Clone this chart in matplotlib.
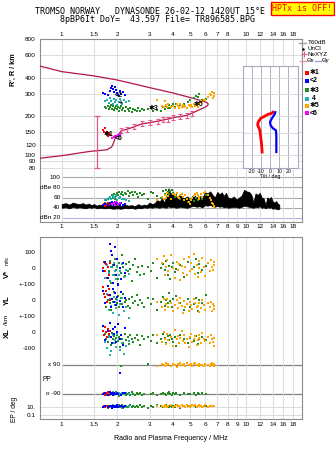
import numpy as np
import matplotlib.pyplot as plt
import matplotlib.ticker as mticker

plt.rcParams['font.family'] = ['Liberation Sans', 'DejaVu Sans']

# ---- frequency axis ticks
top_ticks = [1, 1.5, 2, 3, 4, 5, 6, 7, 8, 10, 12, 14, 16, 18]
mid_ticks = [1, 1.5, 2, 3, 4, 5, 6, 7, 8, 9, 10, 12, 14, 16, 18]

# ---- true-height profile (plasma freq MHz, height km)
prof_f = [0.76, 1.0, 1.43, 1.76, 1.87, 1.91, 1.95, 2.03, 2.11, 2.27, 2.47, 2.72, 3.02, 3.35, 3.57, 3.79,
          4.04, 4.39, 4.77, 5.1, 5.4, 5.7, 6.0, 6.2, 6.25, 6.15, 5.9, 5.2, 4.0, 3.0, 2.0, 1.5, 1.0, 0.76]
prof_R = [94.5, 99, 107, 110, 116, 124, 135, 144, 155, 159, 166, 175, 179, 184, 188, 191,
          196, 199, 204, 212, 220, 228, 236, 243, 250, 256, 262, 276, 305, 335, 384, 413, 446, 493]
err_f = [2.11, 2.27, 2.47, 2.72, 3.02, 3.35, 3.57, 3.79, 4.04, 4.39, 4.77, 5.1]
err_R = [155, 159, 166, 175, 179, 184, 188, 191, 196, 199, 204, 212]
valley_f, valley_R, valley_lo, valley_hi = 1.55, 115, 35, 85

# ---- echoes, per Doppler group
green_f = [1.72, 1.75, 1.78, 1.80, 1.83, 1.86, 1.88, 1.90, 1.92, 1.95, 1.97, 2.00, 2.02, 2.05, 2.08, 2.10,
           2.13, 2.16, 2.20, 2.24, 2.28, 2.32, 2.36, 2.40, 2.45, 2.50, 2.55, 2.60, 2.66, 2.72, 2.80, 2.95,
           3.05, 3.15, 3.30, 3.45, 3.55, 3.62, 3.70, 3.76, 3.82, 3.88, 3.95, 4.02, 4.10, 4.20, 4.40, 4.60,
           4.85, 5.00, 5.20, 5.35, 5.50, 5.60, 5.75, 6.10]
green_R = [238, 232, 241, 228, 236, 244, 230, 239, 226, 234, 242, 229, 237, 221, 233, 240,
           225, 231, 219, 236, 228, 222, 234, 217, 230, 226, 221, 233, 219, 227, 224, 229,
           231, 220, 226, 222, 236, 228, 240, 231, 245, 234, 239, 248, 236, 252, 244, 250,
           258, 266, 276, 290, 284, 298, 270, 275]
green_dB = [50, 55, 58, 60, 62, 57, 64, 60, 66, 58, 63, 68, 65, 70, 62, 67,
            71, 64, 69, 66, 72, 63, 68, 70, 65, 71, 67, 62, 69, 64, 66, 58,
            71, 68, 63, 60, 73, 67, 75, 70, 66, 72, 74, 68, 62, 65, 58, 55,
            52, 57, 54, 60, 56, 62, 58, 64]
green_V = [30, -60, 10, -20, 45, -90, 5, 20, -40, 60, -10, 15, -70, 35, 0, -30,
           80, 10, -50, 25, -15, 40, -5, -80, 20, 55, -25, 5, -45, 15, -35, 10,
           -20, 30, -60, 0, 25, -10, 45, -40, 15, -70, 5, 35, -25, -5, 20, -55,
           40, -15, 10, 60, -30, 25, -10, 15]
green_YL = [20, -40, 0, 35, -20, -60, 10, -10, 50, -30, 5, -15, 25, -45, -5, 15,
            -25, 40, -10, 0, -35, 10, -50, 20, -20, -5, 30, -30, 0, -15, -40, 15,
            -25, 5, -60, -10, 20, -35, 0, -20, 45, -5, -45, 10, -30, 25, -15, -60,
            5, -40, -25, 15, -70, 0, -20, 35]
green_XL = [-10, -40, -60, -20, -30, -80, -5, -45, -25, -70, -35, -15, -55, -30, -90, -20,
            -40, -65, -10, -50, -30, -75, -20, -45, -60, -35, -15, -50, -80, -25, -40, -30,
            -55, -20, -65, -45, -10, -35, -70, -25, -50, -15, -40, -60, -30, -85, -20, -45,
            -65, -35, -55, -25, -75, -40, -30, -50]
green_pol = [-85, -95, -90, -80, -100, -88, -92, -84, -96, -90, -78, -93, -87, -102, -90, 85,
             -86, -94, -82, -98, -90, -88, -95, -80, -92, -100, -86, -90, -84, -96, -91, 95,
             -89, -83, -97, -90, -85, -93, -100, -88, -80, -92, -95, -87, -90, -84, -98, -86,
             -92, -90, -83, -95, -88, -91, -86, -94]
green_EP = [8, 15, 5, 20, 10, 12, 6, 25, 9, 14, 18, 7, 11, 30, 8, 13,
            22, 6, 10, 16, 9, 12, 28, 7, 15, 11, 19, 8, 24, 10, 13, 6,
            17, 9, 21, 12, 7, 14, 26, 10, 8, 18, 11, 15, 9, 22, 6, 13,
            20, 10, 16, 8, 12, 25, 9, 14]

orange_f = [3.3, 3.5, 3.6, 3.65, 3.7, 3.75, 3.8, 3.9, 4.0, 4.15, 4.25, 4.3, 4.35, 4.4, 4.5, 4.55,
            4.6, 4.7, 4.8, 4.9, 5.0, 5.05, 5.1, 5.2, 5.3, 5.4, 5.5, 5.55, 5.6, 5.7, 5.8, 5.9,
            6.0, 6.2, 6.4, 6.5, 6.55, 6.6, 6.7, 6.75]
orange_R = [270, 240, 235, 262, 245, 238, 250, 236, 242, 232, 248, 240, 234, 252, 238, 245,
            236, 241, 233, 247, 239, 244, 236, 250, 242, 246, 238, 255, 248, 262, 258, 270,
            266, 285, 300, 295, 310, 278, 305, 290]
orange_dB = [55, 62, 58, 65, 60, 68, 63, 57, 66, 64, 68, 62, 59, 65, 67, 61,
             56, 64, 58, 52, 48, 55, 60, 63, 66, 68, 64, 61, 58, 66, 62, 68,
             70, 65, 60, 55, 50, 47, 44, 42]
orange_V = [60, 30, 75, -40, 10, 50, -20, 85, 0, -60, 40, -10, 25, -75, 15, -30,
            55, 5, -45, 70, -20, 35, -5, 90, -35, 20, -55, 45, 0, -25, 65, 10,
            -50, 30, -15, 50, 5, -10, 20, 40]
orange_YL = [-10, -40, 10, -60, -25, 5, -45, -15, -70, -30, 0, -50, -20, 15, -35, -80,
             -5, -40, -25, -65, -10, -30, -55, 5, -20, -45, -35, -75, -15, -50, 0, -30,
             -60, -20, -40, -10, -70, -25, -55, -35]
orange_XL = [-20, -60, 0, -40, -75, -10, -50, -30, -85, 15, -45, -25, -65, -35, 5, -55,
             -20, -70, -40, -90, -30, -10, -60, -45, -25, -80, -50, -15, -35, -65, -5, -40,
             -55, -30, -70, -20, -45, -60, -35, -85]
orange_pol = [85, 95, 90, 80, 100, 88, 92, 84, 96, 90, 78, 93, 87, 102, 90, 86,
              94, 82, 98, 90, 88, 95, 80, 92, 100, 86, 90, 84, 96, 91, 89, 83,
              97, 90, 85, 93, 100, 88, 80, 92]
orange_EP = [12, 20, 9, 25, 15, 11, 18, 30, 10, 14, 22, 13, 16, 9, 27, 12,
             19, 11, 24, 15, 10, 17, 28, 13, 21, 9, 16, 12, 26, 14, 11, 19,
             23, 10, 15, 18, 12, 20, 14, 16]

blue_f = [1.67, 1.72, 1.78, 1.82, 1.85, 1.88, 1.9, 1.93, 1.95, 1.98, 2.0, 2.03, 2.07, 2.1, 2.15, 2.2]
blue_R = [305, 300, 296, 318, 335, 342, 328, 312, 338, 322, 305, 296, 315, 300, 308, 292]
blue_dB = [45, 47, 46, 50, 48, 52, 49, 46, 51, 47, 50, 48, 46, 49, 45, 47]
blue_V = [-20, 40, -60, 150, 110, 80, -90, 20, 130, -40, 60, -100, 0, -70, 30, -30]
blue_YL = [60, -20, 90, 30, -40, 10, 70, -10, 45, -30, 20, 95, -5, 50, -45, 15]
blue_XL = [40, -50, 10, 60, -30, -70, 20, -10, 35, -60, 0, 50, -40, -20, -80, 25]
blue_pol = [-90, -85, -95, -80, -92, -88, -100, -86, -90, -94, -82, -90, 40, -96, -88, -84]
blue_EP = [10, 15, 8, 20, 12, 6, 18, 9, 14, 11, 25, 7, 13, 16, 10, 19]

teal_f = [1.72, 1.76, 1.8, 1.83, 1.86, 1.89, 1.92, 1.95, 1.98, 2.0, 2.04, 2.08, 2.12, 2.18, 2.24, 2.32]
teal_R = [262, 270, 255, 278, 265, 250, 272, 258, 268, 246, 260, 275, 252, 266, 258, 262]
teal_dB = [55, 58, 60, 62, 57, 63, 59, 61, 64, 56, 60, 62, 58, 57, 55, 54]
teal_V = [-60, 20, -30, -80, 10, -45, 30, -15, -70, 5, -40, -20, 25, -55, -10, -35]
teal_YL = [-20, 40, -60, 10, -35, -80, 20, -10, -50, 0, -95, -25, 15, -70, -40, -110]
teal_XL = [-60, -100, -30, -140, -120, -20, -70, -50, -90, -10, -40, -110, -65, -135, -85, -55]
teal_pol = [-88, -92, -85, -95, -90, -80, -98, -86, -90, -94, -84, -100, -88, -92, -86, -90]
teal_EP = [9, 14, 7, 18, 11, 22, 8, 13, 16, 10, 20, 12, 6, 15, 9, 17]

red_f = [1.68, 1.7, 1.72, 1.74, 1.76, 1.78, 1.8, 1.83]
red_R = [158, 150, 162, 145, 152, 140, 148, 143]
red_dB = [45, 47, 44, 48, 46, 50, 45, 47]
red_V = [0, 40, -20, 25, -60, 10, -40, 30]
red_YL = [80, 40, 20, 60, -10, 30, 70, 0]
red_XL = [10, -20, 30, 0, -30, 20, -10, 5]
red_pol = [-90, -85, -95, -88, -92, -80, -96, -90]
red_EP = [10, 14, 8, 12, 16, 9, 11, 13]

magenta_f = [1.88, 1.92, 1.95, 1.98, 2.02, 2.06]
magenta_R = [136, 138, 140, 142, 144, 147]
magenta_dB = [48, 50, 46, 52, 47, 49]

# mode label markers
mode_f = [1.79, 2.03, 2.08, 3.14, 5.53, 2.05]
mode_R = [145, 293, 253, 232, 246, 135]
mode_lbl = ['✱1', '<2', '+', '✱3', '✱5', '<6']

# ---- noise (T60dB) envelope
noise_f = [1.0, 1.05, 1.1, 1.15, 1.2, 1.25, 1.3, 1.35, 1.4, 1.45, 1.5, 1.55, 1.6, 1.65, 1.7, 1.8, 1.9, 2.0,
           2.1, 2.2, 2.3, 2.4, 2.5, 2.6, 2.7, 2.8, 2.9, 3.0, 3.1, 3.2, 3.3, 3.4, 3.5, 3.6, 3.7, 3.8, 3.9,
           4.0, 4.2, 4.4, 4.6, 4.8, 5.0, 5.2, 5.4, 5.6, 5.8, 6.0, 6.2, 6.4, 6.6, 6.8, 7.0, 7.2, 7.4, 7.6,
           7.8, 8.0, 8.3, 8.6, 8.9, 9.2, 9.5, 9.8, 10.1, 10.4, 10.7, 11.0, 11.3, 11.6, 11.9, 12.2, 12.5,
           12.8, 13.1, 13.4, 13.7, 14.0, 14.3, 14.6, 14.9, 15.2]
noise_hi = [47, 49, 46, 50, 48, 47, 49, 46, 48, 45, 47, 44, 46, 45, 44, 46, 44, 45, 43, 46, 44, 45, 43,
            47, 44, 46, 45, 50, 47, 49, 55, 52, 58, 50, 62, 78, 66, 72, 60, 64, 58, 62, 57, 66, 60, 63,
            58, 70, 68, 72, 65, 60, 71, 66, 70, 63, 69, 60, 58, 62, 56, 60, 64, 75, 72, 71, 66, 50, 68,
            65, 69, 60, 58, 45, 60, 57, 61, 52, 50, 53, 48, 46]
noise_lo = [40, 41, 39, 42, 40, 41, 40, 39, 41, 40, 41, 39, 40, 40, 39, 40, 38, 39, 38, 40, 39, 40, 38,
            40, 39, 41, 40, 41, 40, 42, 41, 40, 42, 41, 40, 43, 41, 42, 40, 42, 41, 40, 42, 44, 42, 43,
            41, 45, 44, 46, 43, 42, 44, 42, 43, 41, 42, 40, 41, 42, 41, 40, 42, 44, 43, 42, 41, 40, 42,
            41, 43, 40, 41, 39, 41, 40, 41, 38, 39, 38, 37, 38]

# ---- tilt profiles
tiltx_deg = [-8.6, -9.3, -10, -11, -13.5, -12.9, -10, -5.7, -2.1, 1.5, 3.2]
tiltx_R = [106, 124, 135, 156, 172, 181, 194, 201, 208, 211, 216]
tilty_deg = [6.9, 6.9, 6.5, 3.2, 0.75, 0, 1.5, 3.2, 5, 5.8]
tilty_R = [106, 143, 156, 162, 170, 181, 190, 199, 208, 216]

C_RED, C_BLUE, C_GREEN = '#ff0000', '#0000ff', '#228b22'
C_TEAL, C_ORANGE, C_MAG = '#20b0b0', '#ffa500', '#ff00ff'
C_PROF, C_ERR = '#b5154b', '#e2588e'
GRID = '#dcdcdc'
FRAME = '#8c8c8c'

groups = [
    (green_f, green_R, green_dB, green_V, green_YL, green_XL, green_pol, green_EP, C_GREEN),
    (orange_f, orange_R, orange_dB, orange_V, orange_YL, orange_XL, orange_pol, orange_EP, C_ORANGE),
    (teal_f, teal_R, teal_dB, teal_V, teal_YL, teal_XL, teal_pol, teal_EP, C_TEAL),
    (red_f, red_R, red_dB, red_V, red_YL, red_XL, red_pol, red_EP, C_RED),
    (blue_f, blue_R, blue_dB, blue_V, blue_YL, blue_XL, blue_pol, blue_EP, C_BLUE),
]

W, H = 335, 451
fig = plt.figure(figsize=(W / 100, H / 100), dpi=100)


def box(x0, y0, x1, y1):
    return [x0 / W, 1 - y1 / H, (x1 - x0) / W, (y1 - y0) / H]


ax = fig.add_axes(box(40, 39, 302, 170))
axd = fig.add_axes(box(40, 170, 302, 222))
axl = fig.add_axes(box(40, 237, 302, 419))
axt = fig.add_axes(box(242.5, 65.5, 297.5, 168))

for a in (ax, axd, axl):
    a.set_xscale('log')
    a.set_xlim(0.762, 20.2)
    a.xaxis.set_minor_locator(mticker.NullLocator())
    a.set_xticks(mid_ticks)
    a.set_xticklabels([f'{t:g}' for t in mid_ticks])
    a.tick_params(axis='x', length=0, labelsize=4.6, pad=1.8)
    a.grid(True, axis='x', color=GRID, lw=0.7)
    for s in a.spines.values():
        s.set_color(FRAME)
        s.set_linewidth(0.8)

# ---- top panel (virtual height)
ax.set_yscale('log')
ax.set_ylim(76.6, 800)
ax.yaxis.set_minor_locator(mticker.NullLocator())
r_ticks = [80, 90, 100, 120, 150, 200, 300, 400, 600, 800]
ax.set_yticks(r_ticks)
ax.set_yticklabels([str(t) for t in r_ticks])
ax.tick_params(axis='y', length=0, labelsize=4.6, pad=3)
ax.grid(True, axis='y', color=GRID, lw=0.7)
ax.xaxis.tick_top()
ax.set_xticks(top_ticks)
ax.set_xticklabels([f'{t:g}' for t in top_ticks])
ax.spines['bottom'].set_visible(False)

ax.plot(prof_f, prof_R, color=C_PROF, lw=0.9, zorder=3)
ax.errorbar(err_f, err_R, yerr=[r * 0.045 for r in err_R], fmt='none', ecolor=C_ERR,
            elinewidth=0.8, capsize=1.3, capthick=0.8, zorder=4)
ax.errorbar([valley_f], [valley_R], yerr=[[valley_lo], [valley_hi]], fmt='none', ecolor=C_ERR,
            elinewidth=0.9, capsize=2, capthick=0.9, zorder=4)
for g in groups:
    ax.scatter(g[0], g[1], marker='s', s=3.6, color=g[8], lw=0, zorder=5)
ax.scatter(magenta_f, magenta_R, marker='s', s=3.6, color=C_MAG, lw=0, zorder=5)
for f, r, t in zip(mode_f, mode_R, mode_lbl):
    ax.text(f, r, t, fontsize=5, fontweight='bold', color='black', ha='center', va='center', zorder=6)

# ---- amplitude panel
axd.set_ylim(12, 114)
axd.set_yticks([])
axd.spines['top'].set_visible(False)
for lvl in (40, 60, 80, 100):
    axd.plot([1.0, 20.2], [lvl, lvl], color='#a8a8a8', lw=0.8, zorder=1)
axd.plot([1.0, 20.2], [20, 20], color='#b4b4e6', lw=0.8, zorder=1)
for lvl, lab in [(100, '100'), (80, 'dBe 80'), (60, '60'), (40, '40'), (20, 'dBn 20')]:
    axd.text(0.985, lvl, lab, fontsize=4.6, ha='right', va='center')
axd.fill_between(noise_f, noise_lo, noise_hi, color='black', lw=0.6, edgecolor='black', zorder=3)
for g in groups:
    axd.scatter(g[0], g[2], marker='s', s=3.6, color=g[8], lw=0, zorder=4)
axd.scatter(magenta_f, magenta_dB, marker='s', s=3.6, color=C_MAG, lw=0, zorder=4)

# ---- lower panel: V*, YL, XL, polarization, EP stacked on one axis
axl.set_ylim(-943.75, 195.6)
lo_ticks = [100, 0, -100, -200, -300, -400, -500, -867, -917]
lo_labels = ['100', '0', '+-100', '0', '+-100', '0', '-100', '10.', '0.1']
axl.set_yticks(lo_ticks)
axl.set_yticklabels(lo_labels)
axl.tick_params(axis='y', length=0, labelsize=4.6, pad=3)
axl.plot([1.0, 20.2], [-604, -604], color='#808080', lw=0.9, zorder=1)
axl.plot([1.0, 20.2], [-786, -786], color='#808080', lw=0.9, zorder=1)
axl.plot([0.762, 20.2], [-867, -867], color=GRID, lw=0.7, zorder=1)
axl.plot([0.762, 20.2], [-917, -917], color=GRID, lw=0.7, zorder=1)
axl.text(0.985, -604, 'x 90', fontsize=4.6, ha='right', va='center')
axl.text(0.985, -786, 'o -90', fontsize=4.6, ha='right', va='center')
axl.text(0.79, -698, 'PP', fontsize=4.8, ha='left', va='center')
for g in groups:
    f = g[0]
    axl.scatter(f, g[3], marker='s', s=3.6, color=g[8], lw=0, zorder=4)
    axl.scatter(f, [v - 200 for v in g[4]], marker='s', s=3.6, color=g[8], lw=0, zorder=4)
    axl.scatter(f, [v - 400 for v in g[5]], marker='s', s=3.6, color=g[8], lw=0, zorder=4)
    axl.scatter(f, [-695 + p * 182 / 180 for p in g[6]], marker='s', s=3.6, color=g[8], lw=0, zorder=4)
    axl.scatter(f, [-892 + 25 * np.log10(e) for e in g[7]], marker='s', s=3.6, color=g[8], lw=0, zorder=4)

# ---- tilt inset
axt.set_facecolor('white')
axt.set_xlim(-30, 30)
axt.set_yscale('log')
axt.set_ylim(79.6, 497.6)
axt.yaxis.set_minor_locator(mticker.NullLocator())
axt.set_yticks([100, 120, 150, 200, 300, 400])
axt.set_yticklabels([])
axt.set_xticks([-20, -10, 0, 10, 20])
axt.set_xticklabels(['-20', '-10', '0', '10', '20'])
axt.tick_params(length=0, labelsize=3.8, pad=0.8)
axt.grid(True, axis='y', color=GRID, lw=0.7)
axt.grid(True, axis='x', color='#b0b0c4', lw=0.7)
axt.set_xlabel('Tilt / deg', fontsize=3.8, labelpad=0)
for s in axt.spines.values():
    s.set_color('#a8a8c0')
    s.set_linewidth(0.8)
axt.plot(tiltx_deg, tiltx_R, color=C_RED, lw=2.0, zorder=3)
axt.plot(tilty_deg, tilty_R, color=C_BLUE, lw=1.6, zorder=3)

# ---- legend
axg = fig.add_axes(box(296, 36, 335, 118))
axg.set_xlim(296, 335)
axg.set_ylim(118, 36)
axg.axis('off')
axg.plot([299, 306], [42.5, 42.5], color='#a0a0a0', lw=1)
axg.text(307.5, 42.5, 'T60dB', fontsize=4.5, va='center')
axg.plot([303], [48.5], 'k.', ms=1.5)
axg.text(307.5, 48.5, 'UnCl', fontsize=4.5, va='center')
axg.plot([303.5], [54], marker='+', color=C_ERR, ms=4, mew=0.8)
axg.text(307.5, 54, 'NeXYZ', fontsize=4.5, va='center')
axg.plot([300, 306], [60.5, 60.5], color='#f09090', lw=0.9)
axg.text(307, 60.5, 'Θx', fontsize=4.3, va='center')
axg.plot([315, 321], [60.5, 60.5], color='#9a9aea', lw=0.9)
axg.text(322, 60.5, 'Θy', fontsize=4.3, va='center')
leg_y = [72.5, 80.5, 90, 98.5, 105.5, 113]
leg_c = [C_RED, C_BLUE, C_GREEN, C_TEAL, C_ORANGE, C_MAG]
leg_t = ['✱1', '<2', '✱3', ' 4', '✱5', '<6']
for y, c, t in zip(leg_y, leg_c, leg_t):
    axg.scatter([306.5], [y], marker='s', s=9, color=c, lw=0)
    axg.text(309.5, y, t, fontsize=5, fontweight='bold', va='center')

# ---- titles and axis labels
fig.text(150 / W, 1 - 12 / H, 'TROMSO NORWAY   DYNASONDE 26-02-12 1420UT 15°E',
         family='DejaVu Sans Mono', fontsize=6, ha='center', va='center')
fig.text(157 / W, 1 - 20 / H, '8pBP6It DoY=  43.597 File= TR896585.BPG',
         family='DejaVu Sans Mono', fontsize=6, ha='center', va='center')
fig.text(302.5 / W, 1 - 8.5 / H, 'HPTx is OFF!', family='DejaVu Sans Mono', fontsize=6,
         color='red', ha='center', va='center',
         bbox=dict(boxstyle='square,pad=0.2', fc='yellow', ec='red', lw=1))
fig.text(13 / W, 1 - 70 / H, "R', R / km", rotation=90, fontsize=5.2, fontweight='bold',
         ha='center', va='center')
fig.text(7 / W, 1 - 274 / H, 'V*', rotation=90, fontsize=5.5, fontweight='bold', ha='center', va='center')
fig.text(7 / W, 1 - 261 / H, 'm/s', rotation=90, fontsize=4, ha='center', va='center')
fig.text(7 / W, 1 - 300 / H, 'YL', rotation=90, fontsize=5.5, fontweight='bold', ha='center', va='center')
fig.text(7 / W, 1 - 320 / H, '/km', rotation=90, fontsize=4.6, ha='center', va='center')
fig.text(7 / W, 1 - 333 / H, 'XL', rotation=90, fontsize=5.5, fontweight='bold', ha='center', va='center')
fig.text(14 / W, 1 - 409 / H, 'EP / deg', rotation=90, fontsize=4.8, ha='center', va='center')
fig.text(171 / W, 1 - 439 / H, 'Radio and Plasma Frequency / MHz', fontsize=5, ha='center', va='center')

fig.savefig('out.png', dpi=100)
